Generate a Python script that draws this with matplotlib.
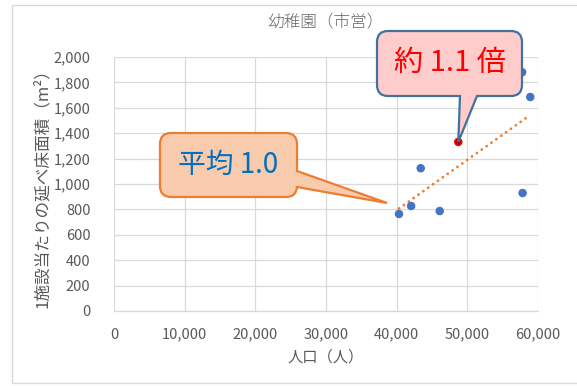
import numpy as np
import matplotlib
matplotlib.use("Agg")
import matplotlib.pyplot as plt
from matplotlib.path import Path
from matplotlib.patches import PathPatch, Rectangle
from matplotlib.transforms import IdentityTransform

plt.rcParams['font.family'] = ['Noto Sans CJK JP', 'DejaVu Sans']

# ---- data ----
population = [40330, 42050, 43400, 46090, 48720, 57820, 57760, 58910]
floor_area = [764, 827, 1124, 787, 1331, 929, 1880, 1685]
highlight_index = 4
title = "幼稚園（市営）"
xlabel = "人口（人）"
ylabel = "1施設当たりの延べ床面積（m²）"
xticks = [0, 10000, 20000, 30000, 40000, 50000, 60000]
yticks = list(range(0, 2001, 200))
avg_label = "平均 1.0"
hl_label = "約 1.1 倍"

W, H = 577, 386
fig = plt.figure(figsize=(W / 100, H / 100), dpi=100)
ax = fig.add_axes([114 / W, 1 - 311 / H, (538 - 114) / W, (311 - 57) / H])

grid_c = '#D9D9D9'
text_c = '#595959'

ax.set_xlim(0, 60000)
ax.set_ylim(0, 2000)
ax.set_xticks(xticks)
ax.set_yticks(yticks)
ax.set_xticklabels([f"{v:,}" for v in xticks])
ax.set_yticklabels([f"{v:,}" for v in yticks])
ax.tick_params(length=0, colors=text_c, labelsize=10.5)
ax.tick_params(axis='x', pad=12)
ax.tick_params(axis='y', pad=17)
ax.grid(True, color=grid_c, linewidth=0.9)
ax.set_axisbelow(True)
for s in ['top', 'right', 'left']:
    ax.spines[s].set_visible(False)
ax.spines['bottom'].set_color(grid_c)
ax.spines['bottom'].set_linewidth(0.9)

# trendline
xs = np.array(population, dtype=float)
ys = np.array(floor_area, dtype=float)
k, b = np.polyfit(xs, ys, 1)
tx = np.array([xs.min(), xs.max()])
ax.plot(tx, k * tx + b, linestyle=(0, (0.05, 2.1)), color='#ED7D31',
        linewidth=2.0, dash_capstyle='round', zorder=2)

cols = ['#4472C4'] * len(population)
edges = ['#4472C4'] * len(population)
cols[highlight_index] = '#C00000'
edges[highlight_index] = '#FF0000'
ax.scatter(population, floor_area, s=28, c=cols, edgecolors=edges,
           linewidths=0.8, zorder=3)

ax.set_xlabel(xlabel, color=text_c, fontsize=11, labelpad=5)
ax.set_ylabel(ylabel, color=text_c, fontsize=12, labelpad=2)
fig.text(0.5 * (114 + 538) / W, 1 - 22 / H, title, color='#6a6a6a',
         fontsize=12, ha='center', va='center', fontweight='light')

# outer chart frame
fig.add_artist(Rectangle((12 / W, 1 - 383 / H), (600 - 12) / W, (383 - 5) / H,
                         transform=fig.transFigure, fill=False,
                         edgecolor='#D9D9D9', linewidth=1.0))


def callout(box, r, side, wa, wb, tip, fc, ec, lw):
    x0, y0, x1, y1 = box
    v = []
    c = []

    def mv(p):
        v.append(p); c.append(Path.MOVETO)

    def ln(p):
        v.append(p); c.append(Path.LINETO)

    def qd(ctrl, p):
        v.extend([ctrl, p]); c.extend([Path.CURVE3, Path.CURVE3])

    mv((x0 + r, y0))
    ln((x1 - r, y0))
    qd((x1, y0), (x1, y0 + r))
    if side == 'right':
        ln((x1, wa)); ln(tip); ln((x1, wb))
    ln((x1, y1 - r))
    qd((x1, y1), (x1 - r, y1))
    if side == 'bottom':
        ln((wb, y1)); ln(tip); ln((wa, y1))
    ln((x0 + r, y1))
    qd((x0, y1), (x0, y1 - r))
    ln((x0, y0 + r))
    qd((x0, y0), (x0 + r, y0))
    v.append((x0 + r, y0)); c.append(Path.CLOSEPOLY)
    disp = [(px, H - py) for px, py in v]
    p = PathPatch(Path(disp, c), transform=IdentityTransform(), facecolor=fc,
                  edgecolor=ec, linewidth=lw, joinstyle='miter', zorder=10)
    fig.add_artist(p)


# average callout
callout((160, 133, 297, 197), 11, 'right', 171, 187, (387, 203),
        '#F8CBAD', '#ED7D31', 1.6)
fig.text((160 + 297) / 2 / W, 1 - 165 / H, avg_label, color='#0070C0',
         fontsize=20, ha='center', va='center', zorder=11)

# highlight callout pointing to the highlighted point
fig.canvas.draw()
hx, hy = ax.transData.transform((population[highlight_index], floor_area[highlight_index]))
callout((377, 31, 522, 96), 11, 'bottom', 460, 477, (hx, H - hy),
        '#FFCCCC', '#41719C', 1.6)
fig.text((377 + 522) / 2 / W, 1 - 63 / H, hl_label, color='#FF0000',
         fontsize=21, ha='center', va='center', zorder=11)

fig.savefig('out.png', dpi=100)
